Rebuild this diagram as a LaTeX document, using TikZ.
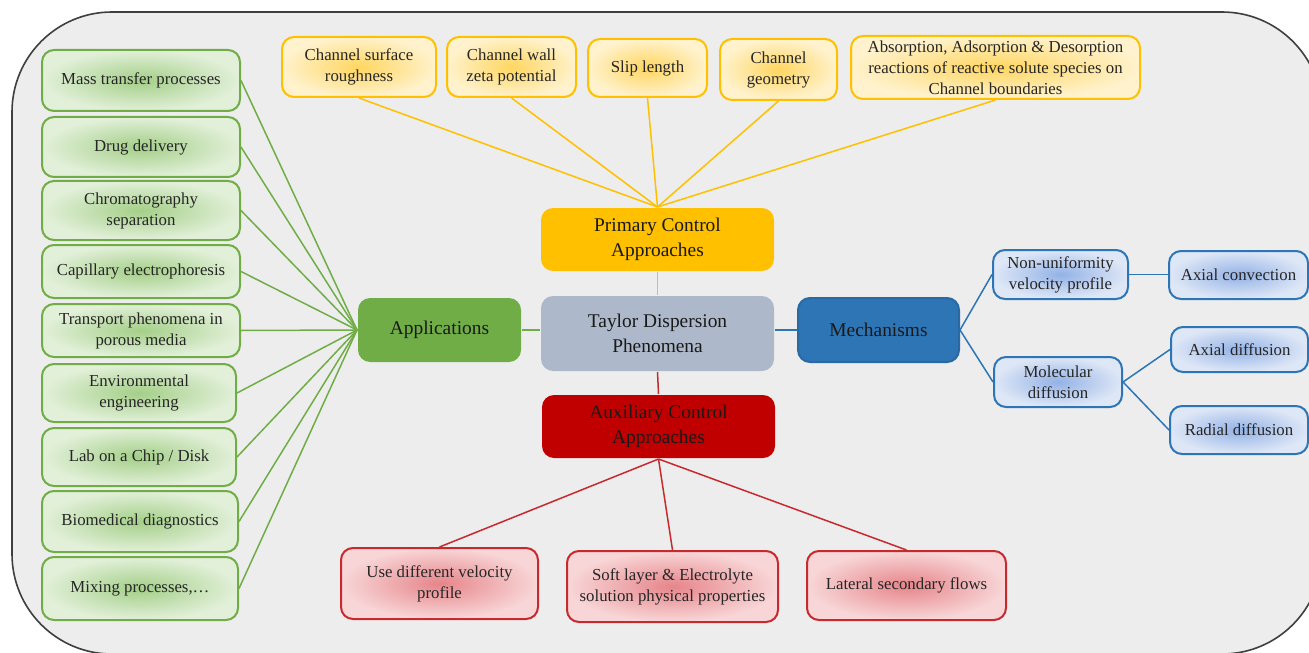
\documentclass[tikz,border=0pt]{standalone}
\usepackage{fontspec}
\setmainfont{Liberation Serif}
\definecolor{bgc}{HTML}{EDEDED}
\definecolor{framec}{HTML}{3F3F3F}
\definecolor{txt}{HTML}{262626}
\definecolor{gline}{HTML}{70AD47}
\definecolor{gin}{HTML}{A4CF88}
\definecolor{gout}{HTML}{E2F0D9}
\definecolor{yline}{HTML}{FFC000}
\definecolor{yin}{HTML}{FFD660}
\definecolor{yout}{HTML}{FFF2CC}
\definecolor{bline}{HTML}{2E75B6}
\definecolor{bin}{HTML}{93B2E6}
\definecolor{bout}{HTML}{DEE7F6}
\definecolor{rline}{HTML}{C62A2F}
\definecolor{rin}{HTML}{E6858A}
\definecolor{rout}{HTML}{F8D6D7}
\definecolor{rmain}{HTML}{C00000}
\definecolor{tay}{HTML}{ADB9CA}
\newcommand{\bx}[7]{\node[#1, minimum width={(#5-(#3))*0.5pt}, minimum height={(#6-(#4))*0.5pt}] (#2) at ({(#3+#5)/2},{(#4+#6)/2}) {#7};}
\tikzset{
  base/.style={rounded corners=6pt, inner sep=0pt, align=center, text=txt, line width=1pt},
  small/.style={base, font=\fontsize{8.4}{10.5}\selectfont, shading=radial},
  gbox/.style={small, draw=gline, inner color=gin, outer color=gout},
  ybox/.style={small, draw=yline, inner color=yin, outer color=yout},
  bbox/.style={small, draw=bline, inner color=bin, outer color=bout},
  rbox/.style={small, draw=rline, inner color=rin, outer color=rout},
  mainbox/.style={base, font=\fontsize{9.7}{12.3}\selectfont, text=black!90},
  gl/.style={draw=gline, line width=0.75pt},
  yl/.style={draw=yline, line width=0.75pt},
  bl/.style={draw=bline, line width=0.75pt},
  rl/.style={draw=rline, line width=0.75pt},
}
\begin{document}
\begin{tikzpicture}[x=0.5pt, y=-0.5pt]
\useasboundingbox (0,0) rectangle (1309,652);
\clip (0,0) rectangle (1309,652);
\fill[white] (0,0) rectangle (1309,652);
\draw[framec, line width=0.8pt, fill=bgc, rounded corners=50pt] (12,12) rectangle (1322,654);

% central nodes
\bx{mainbox, fill=tay}{tay}{541}{296}{774}{371}{Taylor Dispersion\\Phenomena}
\bx{mainbox, fill=yline}{prim}{541}{208}{774}{271}{Primary Control\\Approaches}
\bx{mainbox, fill=rmain}{aux}{542}{395}{775}{458}{Auxiliary Control\\Approaches}
\bx{mainbox, fill=gline}{app}{358}{298}{521}{362}{Applications}
\bx{mainbox, fill=bline, draw=bline!90!black}{mech}{798}{298}{959}{362}{Mechanisms}

% applications
\bx{gbox}{a1}{42}{50}{240}{111}{Mass transfer processes}
\bx{gbox}{a2}{42}{117}{240}{177}{Drug delivery}
\bx{gbox}{a3}{42}{181}{240}{240}{Chromatography\\separation}
\bx{gbox}{a4}{42}{245}{240}{298}{Capillary electrophoresis}
\bx{gbox}{a5}{42}{304}{240}{357}{Transport phenomena in\\porous media}
\bx{gbox}{a6}{42}{364}{236}{422}{Environmental\\engineering}
\bx{gbox}{a7}{42}{428}{236}{486}{Lab on a Chip / Disk}
\bx{gbox}{a8}{42}{491}{238}{552}{Biomedical diagnostics}
\bx{gbox}{a9}{42}{557}{238}{620}{Mixing processes,\dots}

% primary control
\bx{ybox}{p1}{282}{37}{436}{97}{Channel surface\\roughness}
\bx{ybox}{p2}{447}{37}{576}{97}{Channel wall\\zeta potential}
\bx{ybox}{p3}{588}{39}{707}{97}{Slip length}
\bx{ybox}{p4}{720}{39}{837}{100}{Channel\\geometry}
\bx{ybox}{p5}{851}{36}{1140}{99}{Absorption, Adsorption \& Desorption\\reactions of reactive solute species on\\Channel boundaries}

% mechanisms
\bx{bbox}{m1}{993}{250}{1128}{299}{Non-uniformity\\velocity profile}
\bx{bbox}{m2}{994}{357}{1122}{407}{Molecular\\diffusion}
\bx{bbox}{m3}{1169}{251}{1308}{299}{Axial convection}
\bx{bbox}{m4}{1171}{327}{1308}{372}{Axial diffusion}
\bx{bbox}{m5}{1170}{406}{1308}{454}{Radial diffusion}

% auxiliary control
\bx{rbox}{r1}{341}{548}{538}{619}{Use different velocity\\profile}
\bx{rbox}{r2}{567}{551}{778}{622}{Soft layer \& Electrolyte\\solution physical properties}
\bx{rbox}{r3}{807}{551}{1006}{620}{Lateral secondary flows}

% connectors
\foreach \n in {a1,a2,a3,a4,a5,a6,a7,a8,a9} \draw[gl] (\n.east) -- (app.west);
\draw[gl] (app.east) -- (app.east -| tay.west);
\foreach \n in {p1,p2,p3,p4,p5} \draw[yl] (\n.south) -- (prim.north);
\draw[yl] (prim.south) -- (tay.north);
\draw[rl] (tay.south) -- (aux.north);
\foreach \n in {r1,r2,r3} \draw[rl] (aux.south) -- (\n.north);
\draw[bl] (mech.west -| tay.east) -- (mech.west);
\draw[bl] (mech.east) -- (m1.west);
\draw[bl] (mech.east) -- (m2.west);
\draw[bl] (m1.east) -- (m1.east -| m3.west);
\draw[bl] (m2.east) -- (m4.west);
\draw[bl] (m2.east) -- (m5.west);
\end{tikzpicture}
\end{document}
